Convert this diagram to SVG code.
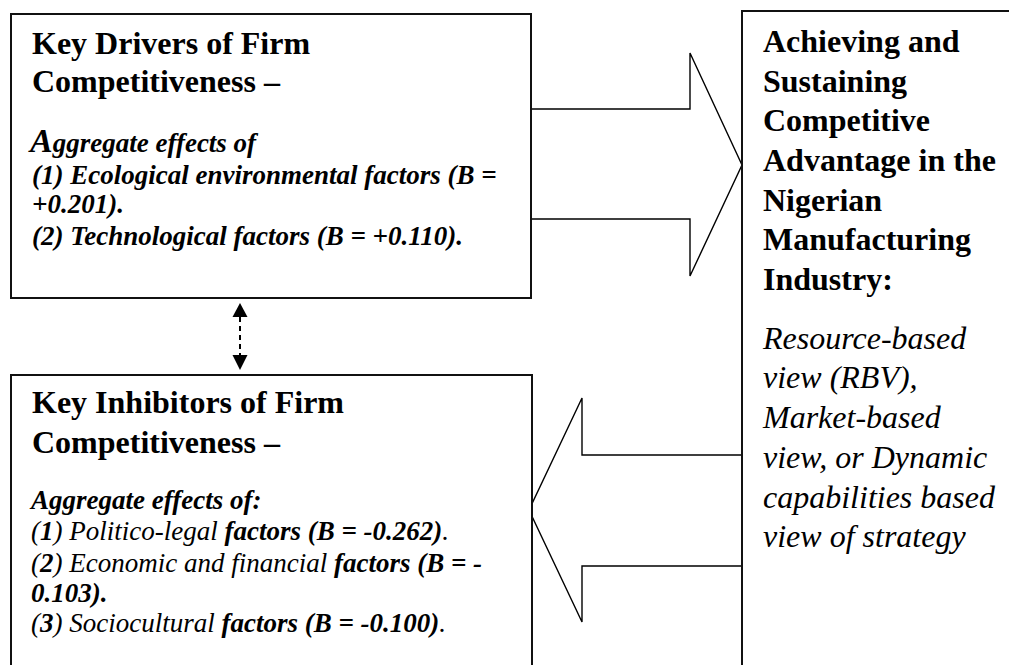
<svg xmlns="http://www.w3.org/2000/svg" width="1009" height="665" viewBox="0 0 1009 665">
  <defs>
    <style>
      .box { fill: #ffffff; stroke: #111111; stroke-width: 2; }
      .arrow { fill: #ffffff; stroke: #000000; stroke-width: 1.4; stroke-linejoin: miter; }
      .t { font-family: "Liberation Serif", "Times New Roman", serif; fill: #000000; }
      .title { font-size: 32px; font-weight: bold; }
      .body { font-size: 27px; font-style: italic; }
      .b { font-weight: bold; }
      .n { font-weight: normal; }
      .rb { font-size: 32px; font-style: italic; }
    </style>
    <marker id="head" viewBox="0 0 10 10" refX="10" refY="5" markerWidth="15" markerHeight="15" markerUnits="userSpaceOnUse" orient="auto">
      <path d="M0,0 L10,5 L0,10 Z" fill="#000000"/>
    </marker>
  </defs>

  <rect x="0" y="0" width="1009" height="665" fill="#ffffff"/>

  <!-- Block arrows and the two-way link -->
  <g id="connectors">
    <path class="arrow" d="M532,109 H690 V53 L742,165 L690,276 V219 H532"/>
    <path class="arrow" d="M742,455 H582 V398 L529,510 L582,622 V566 H742"/>
    <line x1="240" y1="317" x2="240" y2="355" stroke="#000000" stroke-width="2" stroke-dasharray="5,4"/>
    <path d="M240,303 L247.5,317 L232.5,317 Z" fill="#000000"/>
    <path d="M240,370 L247.5,355 L232.5,355 Z" fill="#000000"/>
  </g>

  <!-- Drivers -->
  <g id="drivers">
    <rect class="box" x="11" y="14" width="520" height="284"/>
    <text class="t title" x="32" y="54">Key Drivers of Firm</text>
    <text class="t title" x="32" y="92">Competitiveness –</text>
    <text class="t body b" x="30" y="152"><tspan font-size="34px">A</tspan>ggregate effects of</text>
    <text class="t body b" x="32" y="184">(1) Ecological environmental factors (B =</text>
    <text class="t body b" x="32" y="213">+0.201).</text>
    <text class="t body b" x="32" y="245">(2) Technological factors (B = +0.110).</text>
  </g>

  <!-- Inhibitors -->
  <g id="inhibitors">
    <rect class="box" x="11" y="375" width="521" height="320"/>
    <text class="t title" x="32" y="413">Key Inhibitors of Firm</text>
    <text class="t title" x="32" y="453">Competitiveness –</text>
    <text class="t body b" x="31" y="509">Aggregate effects of:</text>
    <text class="t body" x="31" y="540">(<tspan class="b">1</tspan>) Politico-legal <tspan class="b">factors (B = -0.262)</tspan>.</text>
    <text class="t body" x="31" y="572">(<tspan class="b">2</tspan>) Economic and financial <tspan class="b">factors (B = -</tspan></text>
    <text class="t body b" x="31" y="602">0.103).</text>
    <text class="t body" x="31" y="632">(<tspan class="b">3</tspan>) Sociocultural <tspan class="b">factors (B = -0.100)</tspan>.</text>
  </g>

  <!-- Outcome -->
  <g id="advantage">
    <rect class="box" x="742" y="11" width="300" height="700"/>
    <text class="t title" x="763" y="52">Achieving and</text>
    <text class="t title" x="763" y="92">Sustaining</text>
    <text class="t title" x="763" y="131">Competitive</text>
    <text class="t title" x="763" y="171">Advantage in the</text>
    <text class="t title" x="763" y="211">Nigerian</text>
    <text class="t title" x="763" y="250">Manufacturing</text>
    <text class="t title" x="763" y="290">Industry:</text>
    <text class="t rb" x="763" y="349">Resource-based</text>
    <text class="t rb" x="763" y="388">view (RBV),</text>
    <text class="t rb" x="763" y="428">Market-based</text>
    <text class="t rb" x="763" y="468">view, or Dynamic</text>
    <text class="t rb" x="763" y="508">capabilities based</text>
    <text class="t rb" x="763" y="547">view of strategy</text>
  </g>
</svg>
